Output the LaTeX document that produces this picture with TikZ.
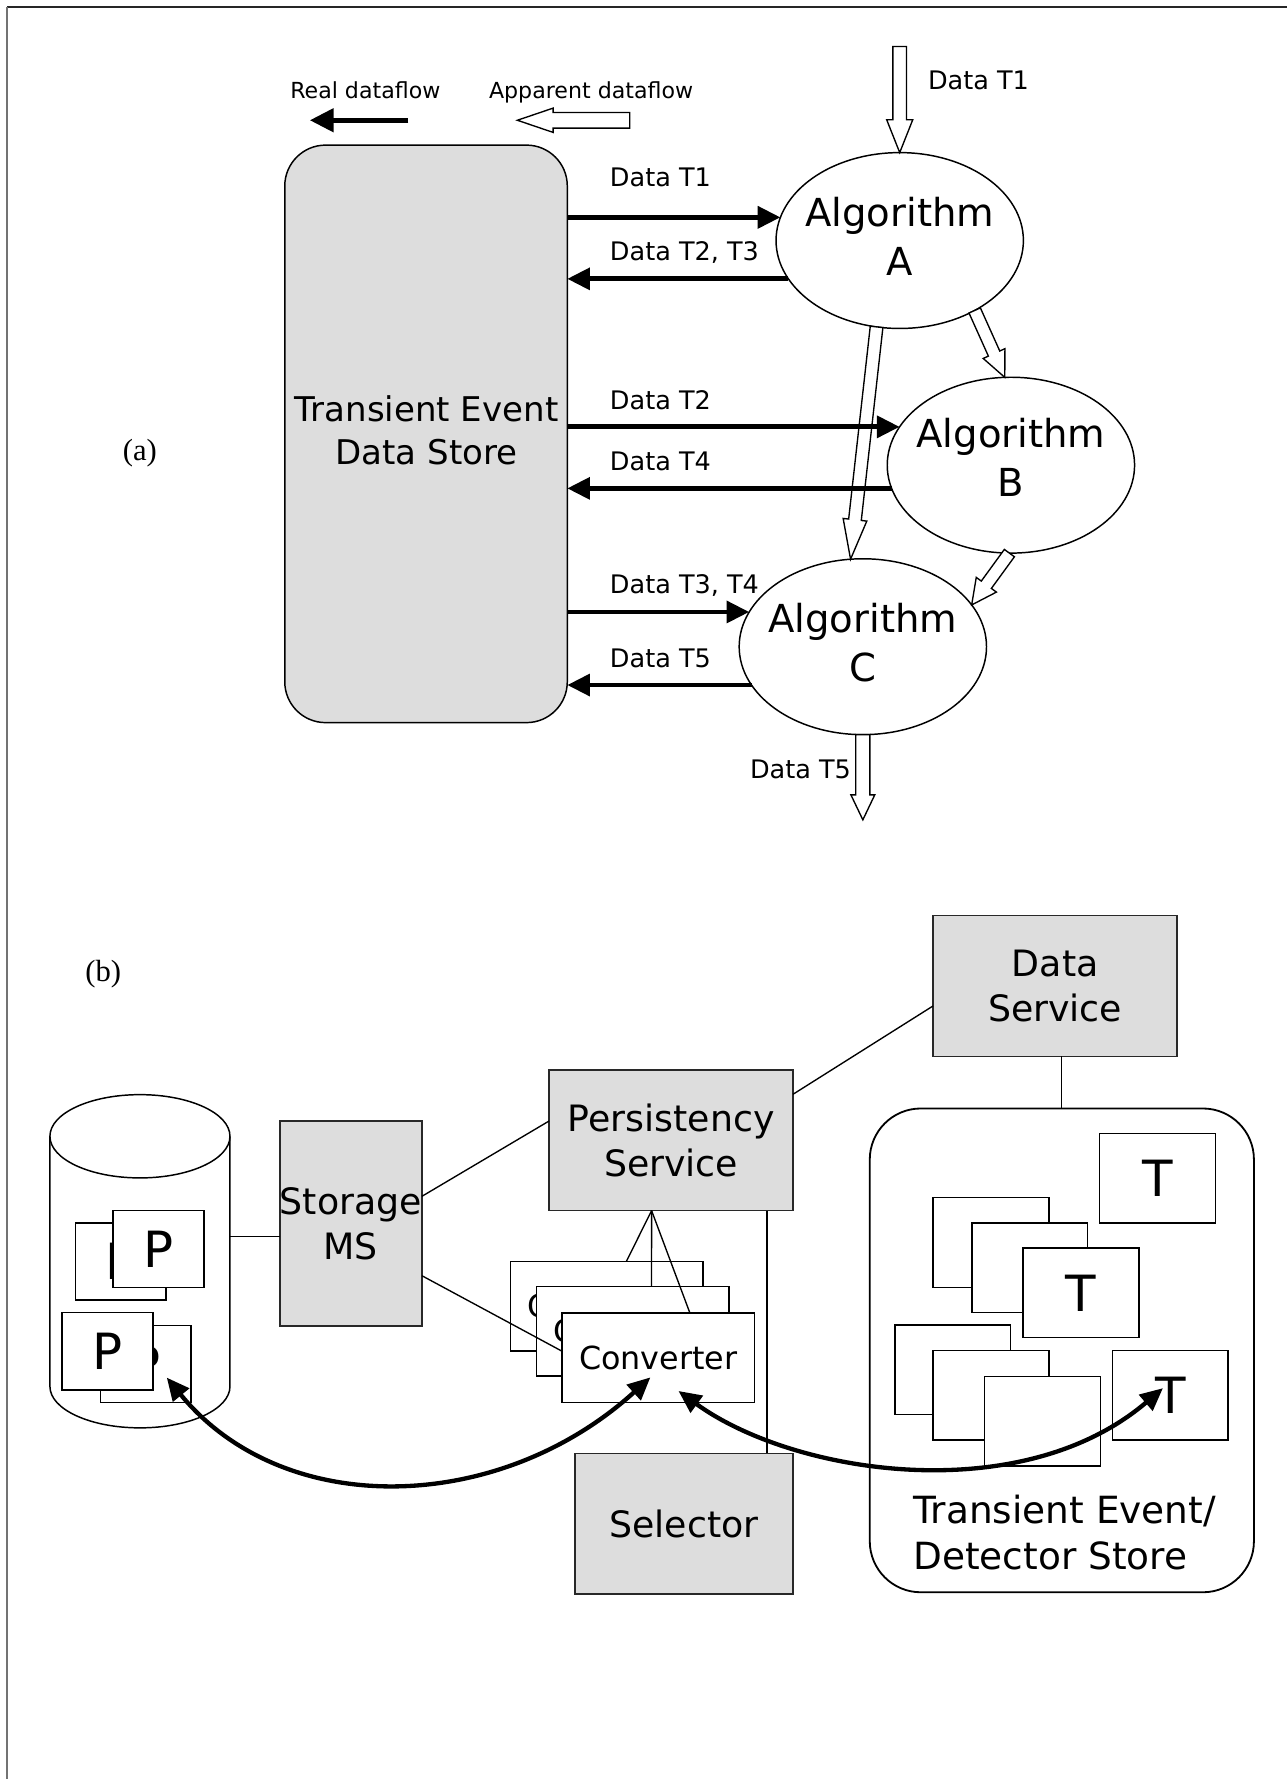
\documentclass[tikz,border=0pt]{standalone}
\usepackage{fontspec}
\setmainfont{DejaVu Sans}
\newfontfamily\capfont{Liberation Serif}
\usetikzlibrary{shapes.geometric,arrows.meta,calc}

\definecolor{panelgray}{RGB}{221,221,221}
\definecolor{boxedge}{RGB}{40,40,40}

% hollow block arrow: from, to, half shaft width, half head width, head length
\newcommand\blockarrow[5]{%
  \coordinate (ba-base) at ($(#2)!#5!(#1)$);
  \draw[hollow] ($(#1)!#3!90:(#2)$) -- ($(ba-base)!#3!90:(#2)$)
    -- ($(ba-base)!#4!90:(#2)$) -- (#2) -- ($(ba-base)!#4!-90:(#2)$)
    -- ($(ba-base)!#3!-90:(#2)$) -- ($(#1)!#3!-90:(#2)$) -- cycle;
}

\begin{document}
\begin{tikzpicture}[x=1pt,y=-1pt,
  every node/.style={inner sep=0pt,outer sep=0pt},
  flowline/.style={line width=4.2pt,-{Triangle[length=20pt,width=19pt]}},
  hollow/.style={draw=black,line width=1.2pt,fill=white,line join=miter},
  algo/.style={ellipse,draw,line width=1.3pt,fill=white,minimum width=218pt,minimum height=155pt},
  algotext/.style={align=center,font=\fontsize{34}{43}\selectfont},
  lbl/.style={anchor=base west,font=\fontsize{22.5}{27}\selectfont},
  legendtext/.style={anchor=base,font=\fontsize{19.5}{23}\selectfont},
  graybox/.style={draw=boxedge,line width=1.5pt,fill=panelgray,align=center,font=\fontsize{32}{39.5}\selectfont},
  link/.style={line width=1.2pt},
  bigarrow/.style={line width=3.8pt,{Triangle[length=20pt,width=18pt]}-{Triangle[length=20pt,width=18pt]}},
  pagebox/.style={draw,line width=1.3pt,fill=white,minimum width=80pt,minimum height=68pt,font=\fontsize{44}{44}\selectfont},
  tbox/.style={draw,line width=1.3pt,fill=white,minimum width=102pt,minimum height=79pt,font=\fontsize{44}{44}\selectfont},
  convbox/.style={draw,line width=1.3pt,fill=white,minimum width=169.5pt,minimum height=79pt,font=\fontsize{28}{28}\selectfont}
]
\fill[white] (0,0) rectangle (1134,1568);
\useasboundingbox (0,0) rectangle (1134,1568);

% page frame
\draw[line width=1.6pt,black!85] (6.5,6.5) -- (1134,6.5);
\draw[line width=1.8pt,black!55] (6.5,6.5) -- (6.5,1568);

% ---------------- (a) algorithms and the transient store ----------------
\node[font=\capfont\fontsize{27}{27}\selectfont] (taga) at (123.3,399.3) {(a)};

% legend
\node[legendtext] (lreal) at (322,86.6) {Real dataflow};
\node[legendtext] (lapp) at (521,86.6) {Apparent dataflow};
\coordinate (realtail) at (360,106);
\coordinate (realtip) at (273,106);
\draw[line width=4.7pt,-{Triangle[length=21pt,width=20pt]}] (realtail) -- (realtip);
\coordinate (apptail) at (555,106);
\coordinate (apptip) at (456,106);
\blockarrow{apptail}{apptip}{6.9pt}{10.7pt}{31.5pt}

% store
\node[draw,line width=1.3pt,fill=panelgray,rounded corners=36pt,minimum width=249pt,minimum height=509pt] (store) at (375.5,382.4) {};
\node[font=\fontsize{30}{38}\selectfont,align=center] (storetext) at (376,379.3) {Transient Event\\Data Store};

% algorithms
\node[algo] (A) at (793,212) {};
\node[algotext] (Atext) at (793,208.2) {Algorithm\\A};
\node[algo] (B) at (891,410) {};
\node[algotext] (Btext) at (891,403.2) {Algorithm\\B};
\node[algo] (C) at (760.5,570) {};
\node[algotext] (Ctext) at (760.5,566.2) {Algorithm\\C};

% apparent flow between algorithms
\coordinate (inA) at (793,41);
\blockarrow{inA}{A.north}{6pt}{11.5pt}{29pt}
\blockarrow{A.255}{C.98}{5.6pt}{10.5pt}{35pt}
\blockarrow{A.-43}{B.94}{5.5pt}{10.5pt}{23pt}
\blockarrow{B.-91}{C.21}{5.5pt}{11pt}{22pt}
\coordinate (outC) at (760.5,722.6);
\blockarrow{C.south}{outC}{6.2pt}{10.5pt}{22pt}

% real flow through the store
\draw[flowline] (store.east |- A.169) -- (A.169);
\draw[flowline] (A.199) -- (store.east |- A.199);
\draw[flowline] (store.east |- B.161) -- (B.161);
\draw[flowline] (B.191) -- (store.east |- B.191);
\draw[flowline] (store.east |- C.163) -- (C.163);
\draw[flowline] (C.199) -- (store.east |- C.199);

\node[lbl] (d1) at (537.6,164.5) {Data T1};
\node[lbl] (d23) at (537.6,229.8) {Data T2, T3};
\node[lbl] (d2) at (537.6,360.5) {Data T2};
\node[lbl] (d4) at (537.6,415) {Data T4};
\node[lbl] (d34) at (537.6,523.5) {Data T3, T4};
\node[lbl] (d5) at (537.6,588) {Data T5};
\node[lbl,anchor=base east] (d5out) at (750,685.8) {Data T5};
\node[lbl] (d1in) at (818,78.7) {Data T1};

% ---------------- (b) persistency architecture ----------------
\node[font=\capfont\fontsize{27}{27}\selectfont] (tagb) at (91,858.5) {(b)};

% database cylinder with persistent objects
\filldraw[fill=white,line width=1.3pt] (44,1001.5) -- (44,1222)
  arc[start angle=180,end angle=0,x radius=79.35,y radius=36.5] -- (202.7,1001.5);
\draw[line width=1.3pt] (123.35,1001.5) ellipse[x radius=79.35,y radius=36.7];
\coordinate (dbport) at (202.7,1089.7);
\node[pagebox] (pa1) at (106.5,1112) {P};
\node[pagebox] (pa2) at (139.7,1100.8) {P};
\node[pagebox] (pb2) at (128.5,1202.2) {P};
\node[pagebox] (pb1) at (94.75,1191) {P};

% services
\node[graybox,minimum width=215.3pt,minimum height=124.3pt] (dserv) at (930,869) {Data\\Service};
\node[graybox,minimum width=215pt,minimum height=124pt] (persist) at (591.5,1005) {Persistency\\Service};
\node[graybox,minimum width=125pt,minimum height=180.6pt] (storage) at (309.2,1078.3) {Storage\\MS};
\node[graybox,minimum width=192.4pt,minimum height=124pt] (selector) at (602.8,1343) {Selector};

% converters
\node[convbox] (cv1) at (534.75,1151.4) {Converter};
\node[convbox] (cv2) at (557.65,1173.4) {Converter};
\node[convbox] (cv3) at (580.25,1196.7) {Converter};

% transient event / detector store
\node[draw,line width=1.6pt,rounded corners=45pt,minimum width=338.6pt,minimum height=426.4pt] (tstore) at (935.9,1190.2) {};
\node[tbox] (t1) at (1020.2,1038.6) {T};
\node[tbox] (s1a) at (873.5,1095.1) {};
\node[tbox] (s1b) at (907.6,1117.4) {};
\node[tbox] (t2) at (952.8,1139.5) {T};
\node[tbox] (s2a) at (839.7,1207.3) {};
\node[tbox] (s2b) at (873.5,1229.8) {};
\node[tbox] (s2c) at (918.9,1252.6) {};
\node[tbox] (t3) at (1031.5,1229.8) {T};
\node[font=\fontsize{33}{41}\selectfont,align=left,anchor=west] (tstoretext) at (805,1350.6) {Transient Event/\\Detector Store};

% connections
\draw[link] (dbport) -- (dbport -| storage.west);
\draw[link] ($(storage.north east)!0.368!(storage.south east)$) -- ($(persist.north west)!0.363!(persist.south west)$);
\draw[link] ($(storage.north east)!0.755!(storage.south east)$) -- ($(cv3.north west)!0.428!(cv3.south west)$);
\draw[link] ($(persist.north east)!0.173!(persist.south east)$) -- ($(dserv.north west)!0.642!(dserv.south west)$);
\coordinate (pfork) at ($(persist.south west)!0.42!(persist.south east)$);
\draw[link] (pfork) -- ($(cv1.north west)!0.602!(cv1.north east)$);
\draw[link] (pfork) -- ($(cv2.north west)!0.598!(cv2.north east)$);
\draw[link] (pfork) -- ($(cv3.north west)!0.664!(cv3.north east)$);
\coordinate (pdrop) at ($(persist.south west)!0.893!(persist.south east)$);
\draw[link] (pdrop) -- (pdrop |- selector.north);
\coordinate (dsdrop) at ($(dserv.south west)!0.525!(dserv.south east)$);
\draw[link] (dsdrop) -- (dsdrop |- tstore.north);

% conversion paths
\coordinate (dbtip) at ($(pb2.center)+(18.5,12)$);
\coordinate (cvtipL) at ($(cv3.center)+(-7,17.3)$);
\coordinate (cvtipR) at ($(cv3.center)+(17.75,29.3)$);
\coordinate (ttip) at ($(t3.center)+(-6.5,-6.3)$);
\draw[bigarrow] (dbtip) .. controls (250,1340) and (440,1335) .. (cvtipL);
\draw[bigarrow] (cvtipR) .. controls (700,1300) and (900,1330) .. (ttip);
\end{tikzpicture}
\end{document}
